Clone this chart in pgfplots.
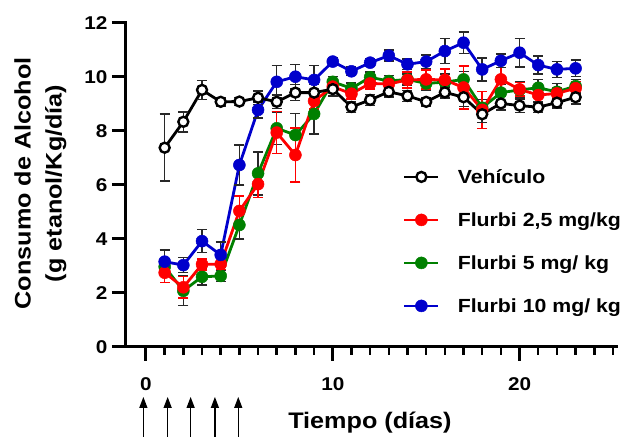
\documentclass[border=0pt]{standalone}
\usepackage{fontspec}
\setmainfont{Liberation Sans}[FakeStretch=1.12]
\usepackage{pgfplots}
\usepackage{pgfplotstable}
\pgfplotsset{compat=1.18}
\usetikzlibrary{arrows.meta}

\definecolor{cred}{RGB}{255,0,0}
\definecolor{cgreen}{RGB}{0,128,0}
\definecolor{cblue}{RGB}{0,0,204}
\definecolor{cbar}{RGB}{40,40,40}

% day, mean, SEM
\pgfplotstableread{
x y e
1 7.37 1.24
2 8.33 0.37
3 9.51 0.35
4 9.07 0.15
5 9.08 0.15
6 9.22 0.25
7 9.07 0.25
8 9.41 0.30
9 9.41 0.30
10 9.54 0.25
11 8.88 0.20
12 9.14 0.20
13 9.44 0.20
14 9.29 0.20
15 9.07 0.15
16 9.42 0.20
17 9.24 0.35
18 8.61 0.30
19 9.01 0.25
20 8.93 0.25
21 8.87 0.20
22 9.04 0.20
23 9.24 0.25
}\vehiculo

\pgfplotstableread{
x y e
1 2.74 0.37
2 2.20 0.40
3 3.05 0.20
4 3.06 0.20
5 5.03 0.55
6 6.02 0.50
7 7.93 0.78
8 7.10 1.00
9 9.10 0.30
10 9.63 0.20
11 9.37 0.20
12 9.75 0.20
13 9.73 0.20
14 9.88 0.30
15 9.90 0.35
16 9.88 0.40
17 9.60 0.80
18 8.77 0.68
19 9.90 0.78
20 9.53 0.25
21 9.32 0.25
22 9.38 0.20
23 9.57 0.25
}\flurbiA

\pgfplotstableread{
x y e
1 2.96 0.30
2 2.07 0.55
3 2.59 0.30
4 2.62 0.20
5 4.51 0.53
6 6.42 0.80
7 8.09 0.60
8 7.84 0.80
9 8.62 0.75
10 9.81 0.20
11 9.57 0.20
12 9.98 0.20
13 9.84 0.20
14 9.90 0.20
15 9.75 0.25
16 9.80 0.30
17 9.90 0.30
18 8.85 0.30
19 9.41 0.30
20 9.51 0.30
21 9.59 0.30
22 9.44 0.30
23 9.65 0.25
}\flurbiB

\pgfplotstableread{
x y e
1 3.15 0.43
2 3.02 0.28
3 3.91 0.43
4 3.40 0.47
5 6.73 0.74
6 8.77 0.30
7 9.81 0.60
8 10.00 0.45
9 9.88 0.53
10 10.56 0.15
11 10.20 0.15
12 10.52 0.15
13 10.78 0.20
14 10.46 0.20
15 10.56 0.25
16 10.95 0.47
17 11.26 0.40
18 10.27 0.43
19 10.59 0.25
20 10.89 0.53
21 10.43 0.33
22 10.27 0.30
23 10.31 0.30
}\flurbiC

\begin{document}
\begin{tikzpicture}
\path[use as bounding box] (0,0) rectangle (622pt,437pt);
\begin{axis}[
  at={(126pt,90.3pt)}, anchor=south west,
  scale only axis, width=490.7pt, height=324pt,
  xmin=-1.07, xmax=25.2, ymin=0, ymax=12,
  clip=false,
  axis x line*=bottom, axis y line*=left,
  axis line style={line width=3pt, line cap=rect},
  xtick={0,10,20},
  minor xtick={1,2,3,4,5,6,7,8,9,11,12,13,14,15,16,17,18,19,21,22,23,24,25},
  ytick={0,2,4,6,8,10,12},
  tick align=outside,
  major tick length=14pt, minor tick length=8pt,
  every tick/.style={black, line width=3pt},
  minor tick style={line width=2.5pt},
  /pgf/number format/assume math mode=true,
  ticklabel style={font=\bfseries\fontsize{18.5}{18.5}\selectfont},
  xticklabel style={yshift=-13pt},
  yticklabel style={xshift=-1pt},
  legend style={draw=none, fill=none, inner sep=0pt, outer sep=0pt,
    at={(0.5645,0.325)}, anchor=west,
    row sep=27.5pt,
    font=\bfseries\fontsize{19}{19}\selectfont,
    nodes={inner sep=0pt},
    /tikz/every even column/.append style={text height=14pt, text depth=4pt},
    /tikz/every odd column/.append style={column sep=18pt}},
  legend cell align=left,
  legend image code/.code={
    \draw[#1] (0pt,0pt) -- (34pt,0pt);
    \path[#1] plot coordinates {(17pt,0pt)};
  },
  error bars/y dir=both, error bars/y explicit,
]
% legend entries
\addlegendimage{black, line width=2.8pt, mark=*, mark size=5pt,
  mark options={fill=white, draw=black, line width=2.4pt}}
\addlegendentry{Vehículo}
\addlegendimage{cred, line width=2.8pt, mark=*, mark size=6pt,
  mark options={fill=cred, draw=cred, line width=0.5pt}}
\addlegendentry{Flurbi 2,5 mg/kg}
\addlegendimage{cgreen, line width=2.8pt, mark=*, mark size=6pt,
  mark options={fill=cgreen, draw=cgreen, line width=0.5pt}}
\addlegendentry{Flurbi 5 mg/ kg}
\addlegendimage{cblue, line width=2.8pt, mark=*, mark size=6pt,
  mark options={fill=cblue, draw=cblue, line width=0.5pt}}
\addlegendentry{Flurbi 10 mg/ kg}

% series
\addplot[forget plot, cgreen, line width=2.8pt, mark=*, mark size=6pt,
  mark options={fill=cgreen, draw=cgreen, line width=0.5pt},
  error bars/error bar style={cbar, line width=1.5pt},
  error bars/error mark options={cbar, rotate=90, mark size=5pt, line width=1.5pt}]
  table[x=x, y=y, y error=e] {\flurbiB};
\addplot[forget plot, cred, line width=2.8pt, mark=*, mark size=6pt,
  mark options={fill=cred, draw=cred, line width=0.5pt},
  error bars/error bar style={cred, line width=1.5pt},
  error bars/error mark options={cred, rotate=90, mark size=5pt, line width=1.5pt}]
  table[x=x, y=y, y error=e] {\flurbiA};
\addplot[forget plot, cblue, line width=2.8pt, mark=*, mark size=6pt,
  mark options={fill=cblue, draw=cblue, line width=0.5pt},
  error bars/error bar style={cbar, line width=1.5pt},
  error bars/error mark options={cbar, rotate=90, mark size=5pt, line width=1.5pt}]
  table[x=x, y=y, y error=e] {\flurbiC};
\addplot[forget plot, black, line width=2.8pt, mark=*, mark size=5pt,
  mark options={fill=white, draw=black, line width=2.4pt},
  error bars/error bar style={cbar, line width=1.5pt},
  error bars/error mark options={cbar, rotate=90, mark size=5pt, line width=1.5pt}]
  table[x=x, y=y, y error=e] {\vehiculo};

% treatment days
\draw[line width=1.3pt, -{Triangle[width=8pt,length=11pt]}]
  (axis cs:-0.14,-3.40) -- (axis cs:-0.14,-1.86);
\draw[line width=1.3pt, -{Triangle[width=8pt,length=11pt]}]
  (axis cs:1.16,-3.40) -- (axis cs:1.16,-1.86);
\draw[line width=1.3pt, -{Triangle[width=8pt,length=11pt]}]
  (axis cs:2.39,-3.40) -- (axis cs:2.39,-1.86);
\draw[line width=1.3pt, -{Triangle[width=8pt,length=11pt]}]
  (axis cs:3.69,-3.40) -- (axis cs:3.69,-1.86);
\draw[line width=1.3pt, -{Triangle[width=8pt,length=11pt]}]
  (axis cs:4.94,-3.40) -- (axis cs:4.94,-1.86);

% axis titles
\node[font=\bfseries\fontsize{22.5}{23}\selectfont, anchor=base]
  at (axis cs:11.99,-3.02) {Tiempo (días)};
\node[font=\bfseries\fontsize{22.5}{31}\selectfont, rotate=90, align=center]
  at (axis cs:-5.65,6.05) {Consumo de Alcohol\\(g etanol/Kg/día)};
\end{axis}
\end{tikzpicture}
\end{document}
